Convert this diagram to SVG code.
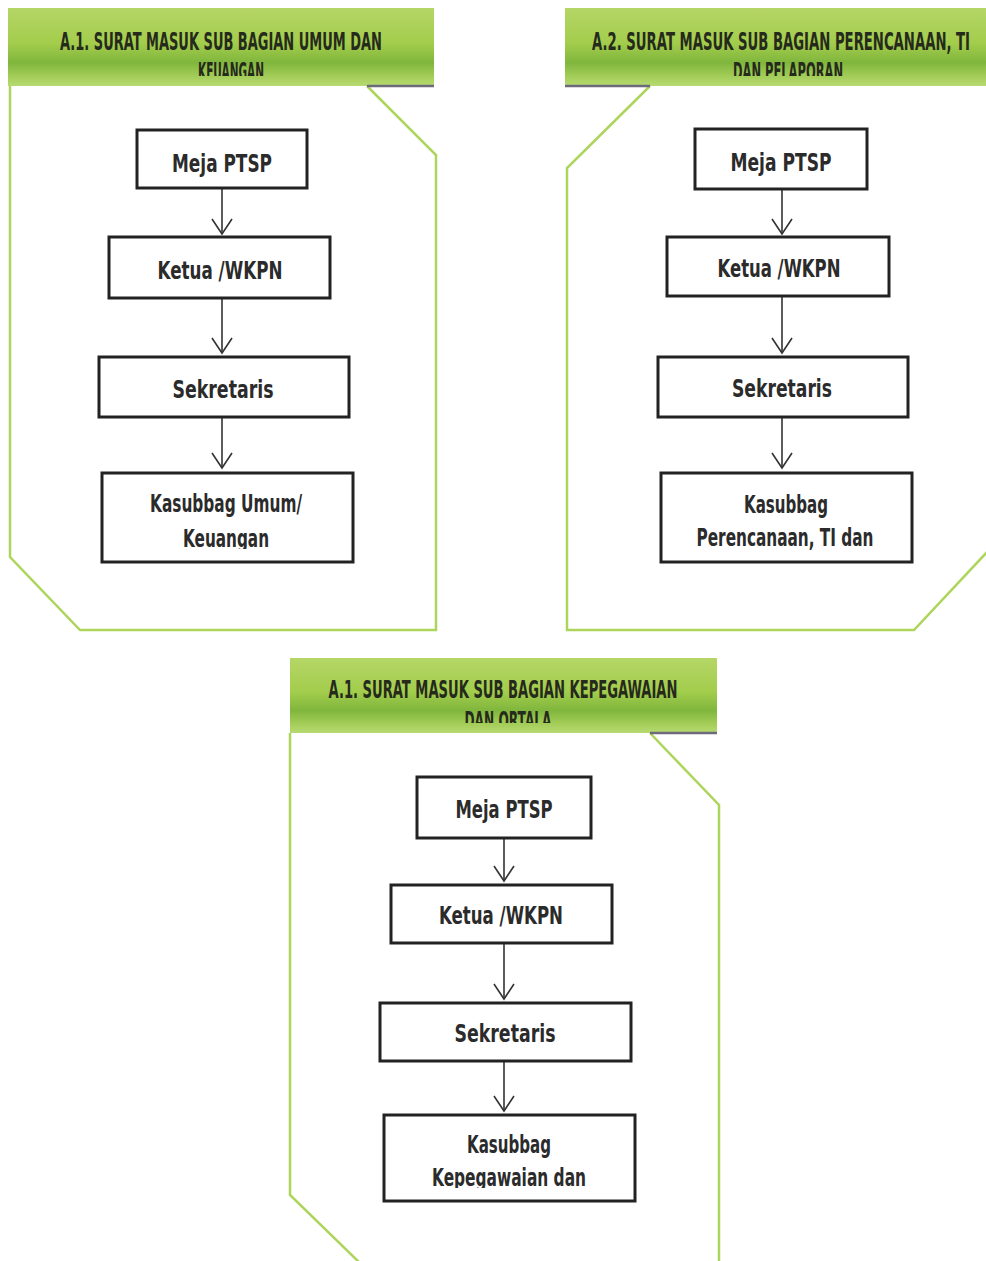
<svg xmlns="http://www.w3.org/2000/svg" width="986" height="1261" viewBox="0 0 986 1261">
<style>
.hdr{stroke:none}
.hline{stroke:#6d6a7c;stroke-width:2.5;fill:none}
.outline{fill:none;stroke:#add55b;stroke-width:2.5;stroke-linejoin:miter}
.box{fill:#fff;stroke:#222;stroke-width:3}
.t{font-family:"DejaVu Sans Condensed","DejaVu Sans",sans-serif;font-weight:bold;font-size:24.5px;fill:#2b2b2b;text-anchor:middle}
.h{font-family:"DejaVu Sans Condensed","DejaVu Sans",sans-serif;font-weight:bold;font-size:24px;fill:#262a1c;text-anchor:middle}
.arr{stroke:#333;stroke-width:1.6;fill:none;marker-end:url(#ah)}
</style>
<defs>
<linearGradient id="g" x1="0" y1="0" x2="0" y2="1">
<stop offset="0" stop-color="#b5d667"/>
<stop offset="0.45" stop-color="#a3cd4c"/>
<stop offset="0.7" stop-color="#80b63d"/>
<stop offset="0.86" stop-color="#a0cb55"/>
<stop offset="1" stop-color="#b8da72"/>
</linearGradient>
<marker id="ah" markerUnits="userSpaceOnUse" markerWidth="22" markerHeight="24" refX="16" refY="11" orient="auto">
<path d="M1,1 L16,11 L1,21" fill="none" stroke="#333" stroke-width="1.6"/>
</marker>
<clipPath id="c1"><rect x="0" y="55" width="450" height="21"/></clipPath>
<clipPath id="c2"><rect x="560" y="55" width="426" height="21"/></clipPath>
<clipPath id="c3"><rect x="280" y="703" width="450" height="20"/></clipPath>
<clipPath id="b1"><rect x="0" y="520" width="450" height="29"/></clipPath>
<clipPath id="b3"><rect x="280" y="1160" width="450" height="28"/></clipPath>
</defs>
<rect width="986" height="1261" fill="#fff"/>

<g id="panel1">
<path class="outline" d="M10,86 L10,557 L80,630 L436,630 L436,155 L367,86"/>
<rect class="hdr" x="8" y="8" width="426" height="78" fill="url(#g)"/>
<line class="hline" x1="367" y1="86" x2="434" y2="86"/>
<text class="h" x="221" y="50" textLength="322" lengthAdjust="spacingAndGlyphs">A.1. SURAT MASUK SUB BAGIAN UMUM DAN</text>
<text class="h" x="231" y="80" textLength="66" lengthAdjust="spacingAndGlyphs" clip-path="url(#c1)">KEUANGAN</text>
</g>

<g id="panel2">
<path class="outline" d="M650,86 L567,168 L567,630 L914,630 L988,551"/>
<rect class="hdr" x="565" y="8" width="421" height="78" fill="url(#g)"/>
<line class="hline" x1="565" y1="86" x2="650" y2="86"/>
<text class="h" x="781" y="50" textLength="378" lengthAdjust="spacingAndGlyphs">A.2. SURAT MASUK SUB BAGIAN PERENCANAAN, TI</text>
<text class="h" x="788" y="80" textLength="110" lengthAdjust="spacingAndGlyphs" clip-path="url(#c2)">DAN PELAPORAN</text>
</g>

<g id="panel3">
<path class="outline" d="M290,733 L290,1195 L362,1265"/>
<path class="outline" d="M650,733 L719,805 L719,1262"/>
<rect class="hdr" x="290" y="658" width="427" height="75" fill="url(#g)"/>
<line class="hline" x1="650" y1="733" x2="717" y2="733"/>
<text class="h" x="503" y="698" textLength="349" lengthAdjust="spacingAndGlyphs">A.1. SURAT MASUK SUB BAGIAN KEPEGAWAIAN</text>
<text class="h" x="508" y="729" textLength="87" lengthAdjust="spacingAndGlyphs" clip-path="url(#c3)">DAN ORTALA</text>
</g>

<g id="connectors">
<line class="arr" x1="222" y1="188" x2="222" y2="234"/>
<line class="arr" x1="222" y1="298" x2="222" y2="353"/>
<line class="arr" x1="222" y1="417" x2="222" y2="468"/>
<line class="arr" x1="782" y1="189" x2="782" y2="234"/>
<line class="arr" x1="782" y1="296" x2="782" y2="353"/>
<line class="arr" x1="782" y1="417" x2="782" y2="468"/>
<line class="arr" x1="504" y1="838" x2="504" y2="881"/>
<line class="arr" x1="504" y1="943" x2="504" y2="999"/>
<line class="arr" x1="504" y1="1061" x2="504" y2="1111"/>
</g>

<g id="p1-meja"><rect class="box" x="137" y="130" width="170" height="58"/><text class="t" x="222" y="172" textLength="100" lengthAdjust="spacingAndGlyphs">Meja PTSP</text></g>
<g id="p1-ketua"><rect class="box" x="109" y="237" width="221" height="61"/><text class="t" x="220" y="279" textLength="125" lengthAdjust="spacingAndGlyphs">Ketua /WKPN</text></g>
<g id="p1-sekretaris"><rect class="box" x="99" y="357" width="250" height="60"/><text class="t" x="223" y="398" textLength="101" lengthAdjust="spacingAndGlyphs">Sekretaris</text></g>
<g id="p1-kasubbag"><rect class="box" x="102" y="473" width="251" height="89"/><text class="t" x="226" y="512" textLength="152" lengthAdjust="spacingAndGlyphs">Kasubbag Umum/</text><text class="t" x="226" y="547" textLength="86" lengthAdjust="spacingAndGlyphs" clip-path="url(#b1)">Keuangan</text></g>

<g id="p2-meja"><rect class="box" x="695" y="129" width="172" height="60"/><text class="t" x="781" y="171" textLength="101" lengthAdjust="spacingAndGlyphs">Meja PTSP</text></g>
<g id="p2-ketua"><rect class="box" x="667" y="237" width="222" height="59"/><text class="t" x="779" y="277" textLength="123" lengthAdjust="spacingAndGlyphs">Ketua /WKPN</text></g>
<g id="p2-sekretaris"><rect class="box" x="658" y="357" width="250" height="60"/><text class="t" x="782" y="397" textLength="100" lengthAdjust="spacingAndGlyphs">Sekretaris</text></g>
<g id="p2-kasubbag"><rect class="box" x="661" y="473" width="251" height="89"/><text class="t" x="786" y="513" textLength="84" lengthAdjust="spacingAndGlyphs">Kasubbag</text><text class="t" x="785" y="546" textLength="177" lengthAdjust="spacingAndGlyphs">Perencanaan, TI dan</text></g>

<g id="p3-meja"><rect class="box" x="417" y="777" width="174" height="61"/><text class="t" x="504" y="818" textLength="97" lengthAdjust="spacingAndGlyphs">Meja PTSP</text></g>
<g id="p3-ketua"><rect class="box" x="391" y="885" width="221" height="58"/><text class="t" x="501" y="924" textLength="124" lengthAdjust="spacingAndGlyphs">Ketua /WKPN</text></g>
<g id="p3-sekretaris"><rect class="box" x="380" y="1003" width="251" height="58"/><text class="t" x="505" y="1042" textLength="101" lengthAdjust="spacingAndGlyphs">Sekretaris</text></g>
<g id="p3-kasubbag"><rect class="box" x="384" y="1115" width="251" height="86"/><text class="t" x="509" y="1153" textLength="84" lengthAdjust="spacingAndGlyphs">Kasubbag</text><text class="t" x="509" y="1186" textLength="154" lengthAdjust="spacingAndGlyphs" clip-path="url(#b3)">Kepegawaian dan</text></g>
</svg>
